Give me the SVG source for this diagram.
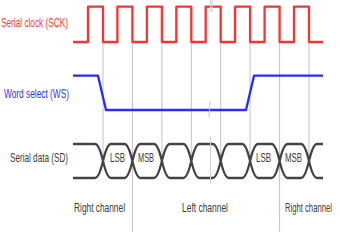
<svg xmlns="http://www.w3.org/2000/svg" width="340" height="239" viewBox="0 0 340 239">
<style>
.grid{stroke:#c4c4c4;stroke-width:1;fill:none}
.sig{fill:none;stroke-width:2.3;stroke-linejoin:round;stroke-linecap:butt}
.clk{stroke:#ff3030}
.ws{stroke:#2a2aff}
.sd{stroke:#444}
.brk{stroke:#d0d0d0;stroke-width:1;fill:none}
text{font-family:"Liberation Sans",Arial,sans-serif;font-size:13px}
.lc{fill:#ff3a3a}
.lw{fill:#3030ff}
.ld{fill:#3a3a3a}
</style>
<rect width="340" height="239" fill="#fff"/>
<g id="gridlines">
<path class="grid" d="M103,42V161 M132.4,42V232 M161.9,42V161 M191.3,42V161 M220.7,42V161 M250.1,42V161 M279.6,42V232 M309,42V161"/>
</g>
<g id="connectors">
<path id="sck" class="sig clk" d="M73,42H88V6.7H103V42H117.4V6.7H132.4V42H146.9V6.7H161.9V42H176.3V6.7H191.3V42H205.7V6.7H220.7V42H235.1V6.7H250.1V42H264.6V6.7H279.6V42H294V6.7H309V42H323"/>
<path id="ws" class="sig ws" d="M73,75.7H98L106,110H246L254,75.7H323"/>
<path id="sd" class="sig sd" d="M73,144H95 M73,178H95 M111,144H124.4 M111,178H124.4 M140.4,144H153.9 M140.4,178H153.9 M169.9,144H183.3 M169.9,178H183.3 M199.3,144H212.7 M199.3,178H212.7 M228.7,144H242.1 M228.7,178H242.1 M258.1,144H271.6 M258.1,178H271.6 M287.6,144H301 M287.6,178H301 M317,144H323 M317,178H323
M95,144 Q99,144 103,161 T111,178 M95,178 Q99,178 103,161 T111,144
M124.4,144 Q128.4,144 132.4,161 T140.4,178 M124.4,178 Q128.4,178 132.4,161 T140.4,144
M153.9,144 Q157.9,144 161.9,161 T169.9,178 M153.9,178 Q157.9,178 161.9,161 T169.9,144
M183.3,144 Q187.3,144 191.3,161 T199.3,178 M183.3,178 Q187.3,178 191.3,161 T199.3,144
M212.7,144 Q216.7,144 220.7,161 T228.7,178 M212.7,178 Q216.7,178 220.7,161 T228.7,144
M242.1,144 Q246.1,144 250.1,161 T258.1,178 M242.1,178 Q246.1,178 250.1,161 T258.1,144
M271.6,144 Q275.6,144 279.6,161 T287.6,178 M271.6,178 Q275.6,178 279.6,161 T287.6,144
M301,144 Q305,144 309,161 T317,178 M301,178 Q305,178 309,161 T317,144"/>
<path class="brk" d="M210.5,0V12 M212,0V12 M210,101L209,118 M210.5,136V184"/>
</g>
<g id="label-sck"><text class="lc" x="1" y="27" textLength="67" lengthAdjust="spacingAndGlyphs">Serial clock (SCK)</text></g>
<g id="label-ws"><text class="lw" x="4" y="98" textLength="65" lengthAdjust="spacingAndGlyphs">Word select (WS)</text></g>
<g id="label-sd"><text class="ld" x="10" y="162" textLength="58" lengthAdjust="spacingAndGlyphs">Serial data (SD)</text></g>
<g id="bits">
<text class="ld" x="110" y="162" textLength="15" lengthAdjust="spacingAndGlyphs">LSB</text>
<text class="ld" x="138" y="162" textLength="16" lengthAdjust="spacingAndGlyphs">MSB</text>
<text class="ld" x="256" y="162" textLength="15" lengthAdjust="spacingAndGlyphs">LSB</text>
<text class="ld" x="285" y="162" textLength="17" lengthAdjust="spacingAndGlyphs">MSB</text>
</g>
<g id="channels">
<text class="ld" x="74" y="212" textLength="51" lengthAdjust="spacingAndGlyphs">Right channel</text>
<text class="ld" x="182" y="212" textLength="46" lengthAdjust="spacingAndGlyphs">Left channel</text>
<text class="ld" transform="translate(285,212) scale(0.591,1)">Right channel</text>
</g>
</svg>
